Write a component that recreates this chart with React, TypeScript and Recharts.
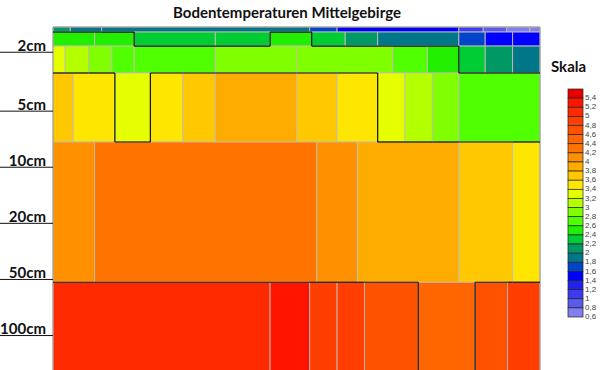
import { ComposedChart, XAxis, YAxis, ReferenceArea, ReferenceLine } from 'recharts'

// Zellgrenzen (Uhrzeit in h) und Temperaturen je Schicht, von oben nach unten
const oberflaecheZeit = [0, 0.85, 2.4, 12.65, 14, 20, 21.2, 22.35, 23.5, 24]
const oberflaecheTemp = [2.1, 1.9, 1.9, 1.7, 1.5, 1.1, 0.9, 0.7, 0.7]

const einCmZeit = [0, 2.05, 4, 8, 10.7, 12.75, 14.4, 16, 20, 21.3, 22.65, 24]
const einCmTemp = [2.5, 2.5, 2.3, 2.3, 2.5, 2.3, 2.1, 1.9, 1.7, 1.5, 1.5]

const zweiCmZeit = [0, 0.6, 1.75, 2.9, 4, 8, 12, 16.75, 18.45, 20, 21.3, 22.65, 24]
const zweiCmTemp = [3.3, 3.1, 2.9, 2.7, 2.7, 2.9, 2.9, 2.7, 2.5, 2.3, 2.1, 1.9]

const fuenfCmZeit = [0, 1, 3.05, 4.8, 6.4, 8, 12, 14, 16, 17.35, 18.7, 20, 24]
const fuenfCmTemp = [3.7, 3.5, 3.3, 3.5, 3.7, 3.9, 3.7, 3.5, 3.3, 3.1, 2.9, 2.7]

const mitteZeit = [0, 2.05, 13, 15, 20, 22.65, 24]
const mitteTemp = [4.1, 4.3, 4.1, 3.9, 3.7, 3.5]

const hundertCmZeit = [0, 10.7, 12.65, 14, 15.35, 18, 20.8, 22.4, 24]
const hundertCmTemp = [5.1, 5.3, 4.9, 4.9, 4.7, 4.5, 4.7, 4.9]

// Lage der Schichtgrenzen auf der Tiefenachse
const schichtGrenzen = [0, 0.09, 0.34, 0.82, 2.05, 4.55, 6.15]

const tiefenTicks = [0.45, 1.5, 2.5, 3.5, 4.5, 5.5]
const tiefenLabels = ['2cm', '5cm', '10cm', '20cm', '50cm', '100cm']

const skalaWerte = [5.4, 5.2, 5, 4.8, 4.6, 4.4, 4.2, 4, 3.8, 3.6, 3.4, 3.2, 3, 2.8, 2.6, 2.4, 2.2, 2, 1.8, 1.6, 1.4, 1.2, 1, 0.8, 0.6]
const skalaFarben = [
  '#e60000', '#ff1400', '#ff2a00', '#ff3e00', '#ff5200', '#ff6600', '#ff7400', '#ff9000',
  '#ffac00', '#ffc800', '#ffe600', '#e6ff00', '#b4ff00', '#80ff00', '#50ff00', '#22ee00',
  '#00cc33', '#009966', '#007788', '#0044cc', '#0000ff', '#2222ee', '#3c3cee', '#5a5aee', '#8080f0',
]

const isothermen = [2.4, 3.4, 4.6]

const schichten = [
  [oberflaecheZeit, oberflaecheTemp],
  [einCmZeit, einCmTemp],
  [zweiCmZeit, zweiCmTemp],
  [fuenfCmZeit, fuenfCmTemp],
  [mitteZeit, mitteTemp],
  [hundertCmZeit, hundertCmTemp],
].map(([zeit, temp], i) => ({
  oben: schichtGrenzen[i],
  unten: schichtGrenzen[i + 1],
  zellen: temp.map((t, j) => ({ von: zeit[j], bis: zeit[j + 1], t })),
}))

const farbe = (t: number) => {
  const i = skalaWerte.findIndex((w) => t >= w)
  return skalaFarben[i < 0 ? skalaFarben.length - 1 : i]
}

const trennt = (a: number, b: number) => isothermen.some((l) => (a >= l) !== (b >= l))

type Segment = { x1: number; y1: number; x2: number; y2: number }

function isolinien(): Segment[] {
  const segs: Segment[] = []
  schichten.forEach((s, k) => {
    for (let j = 1; j < s.zellen.length; j++) {
      if (trennt(s.zellen[j - 1].t, s.zellen[j].t)) {
        segs.push({ x1: s.zellen[j].von, y1: s.oben, x2: s.zellen[j].von, y2: s.unten })
      }
    }
    const naechste = schichten[k + 1]
    if (!naechste) return
    s.zellen.forEach((a) => {
      naechste.zellen.forEach((b) => {
        const von = Math.max(a.von, b.von)
        const bis = Math.min(a.bis, b.bis)
        if (bis > von && trennt(a.t, b.t)) {
          segs.push({ x1: von, y1: s.unten, x2: bis, y2: s.unten })
        }
      })
    })
  })
  return segs
}

function TiefenTick(props: any) {
  const { x, y, payload } = props
  const i = tiefenTicks.indexOf(payload.value)
  return (
    <g>
      <line x1={0} x2={x} y1={y} y2={y} stroke="#111" strokeWidth={1} />
      <text
        x={x - 7}
        y={y - 1.5}
        textAnchor="end"
        fontFamily="Lato, sans-serif"
        fontWeight={700}
        fontSize={15}
        fill="#111"
      >
        {tiefenLabels[i]}
      </text>
    </g>
  )
}

const fmt = (v: number) => String(v).replace('.', ',')

function Skala() {
  const top = 89
  const h = 9.12
  return (
    <g>
      <text x={551} y={72} fontFamily="Lato, sans-serif" fontWeight={700} fontSize={15} fill="#111">
        Skala
      </text>
      {skalaWerte.map((w, i) => (
        <g key={w}>
          <rect x={568} y={top + i * h} width={15} height={h} fill={skalaFarben[i]} stroke="#222" strokeWidth={0.7} />
          <text
            x={585}
            y={top + (i + 1) * h}
            dominantBaseline="middle"
            fontFamily="Liberation Sans, Arial, sans-serif"
            fontSize={8}
            fill="#444"
          >
            {fmt(w)}
          </text>
        </g>
      ))}
    </g>
  )
}

export default function App() {
  const linien = isolinien()
  return (
    <div style={{ position: 'absolute', left: 0, top: 0, width: 600, height: 370, background: '#fff', overflow: 'hidden' }}>
      <ComposedChart width={600} height={372} margin={{ top: 27, right: 60, bottom: 0, left: 0 }}>
        <XAxis type="number" dataKey="x" domain={[0, 24]} hide allowDataOverflow />
        <YAxis
          type="number"
          domain={[0, schichtGrenzen[schichtGrenzen.length - 1]]}
          reversed
          allowDataOverflow
          width={53}
          ticks={tiefenTicks}
          interval={0}
          axisLine={false}
          tickLine={false}
          tickSize={0}
          tickMargin={0}
          tick={<TiefenTick />}
        />
        {schichten.map((s, k) =>
          s.zellen.map((z, j) => (
            <ReferenceArea
              key={`${k}-${j}`}
              x1={z.von}
              x2={z.bis}
              y1={s.oben}
              y2={s.unten}
              fill={farbe(z.t)}
              fillOpacity={1}
              stroke="#c4bcae"
              strokeOpacity={0.9}
              strokeWidth={1}
              ifOverflow="visible"
            />
          ))
        )}
        {linien.map((l, i) => (
          <ReferenceLine
            key={`l${i}`}
            segment={[{ x: l.x1, y: l.y1 }, { x: l.x2, y: l.y2 }]}
            stroke="#111"
            strokeWidth={1.2}
            ifOverflow="visible"
          />
        ))}
        <ReferenceArea x1={0} x2={24} y1={0} y2={6.15} fill="none" stroke="#9a9a9a" strokeWidth={1} ifOverflow="visible" />
      </ComposedChart>
      <svg width={600} height={370} style={{ position: 'absolute', left: 0, top: 0, pointerEvents: 'none' }}>
        <text x={287} y={18} textAnchor="middle" fontFamily="Lato, sans-serif" fontWeight={700} fontSize={15} fill="#111">
          Bodentemperaturen Mittelgebirge
        </text>
        <Skala />
      </svg>
    </div>
  )
}
